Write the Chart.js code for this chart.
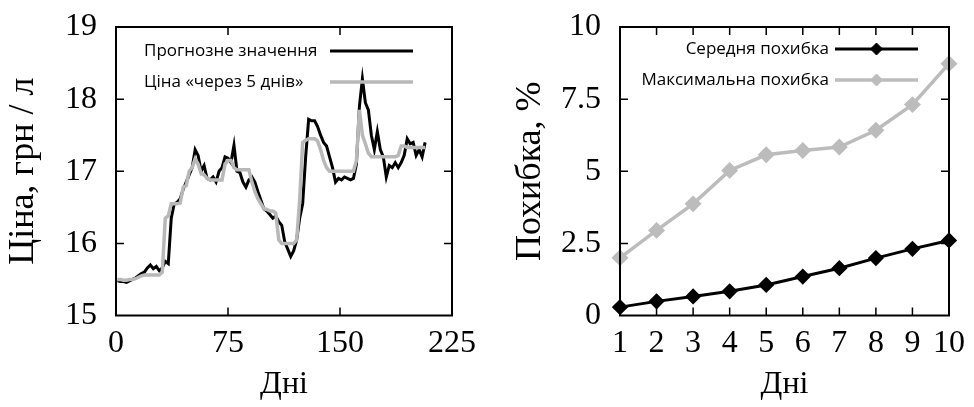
<!DOCTYPE html>
<html>
<head>
<meta charset="utf-8">
<script src="https://cdn.jsdelivr.net/npm/chart.js@4.4.0/dist/chart.umd.min.js"></script>
<style>
html, body { margin: 0; padding: 0; background: #fff; }
#wrap { display: flex; width: 974px; height: 407px; }
canvas { display: block; }
</style>
</head>
<body>
<div id="wrap">
  <canvas id="priceChart" width="487" height="407"></canvas>
  <canvas id="errorChart" width="487" height="407"></canvas>
</div>
<script>
// left panel: price, every 2nd day
const priceDays = Array.from({ length: 104 }, (_, i) => 1 + 2 * i);
const forecastPrice = [
    15.48, 15.47, 15.47, 15.46, 15.48, 15.50, 15.52, 15.55, 15.58, 15.60,
    15.66, 15.70, 15.65, 15.68, 15.62, 15.66, 15.75, 15.72, 16.35, 16.55,
    16.57, 16.62, 16.75, 16.85, 16.95, 17.05, 17.30, 17.22, 17.00, 17.08,
    16.90, 16.88, 16.92, 16.85, 17.00, 17.05, 17.20, 17.18, 17.12, 17.36,
    17.00, 16.98, 16.85, 16.78, 16.88, 16.92, 16.85, 16.72, 16.60, 16.48,
    16.45, 16.40, 16.35, 16.38, 16.30, 16.25, 16.02, 15.92, 15.82, 15.90,
    16.05, 16.35, 16.55, 17.20, 17.72, 17.70, 17.70, 17.62, 17.50, 17.40,
    17.35, 17.20, 17.05, 16.85, 16.90, 16.88, 16.92, 16.90, 16.88, 16.90,
    17.10, 17.90, 18.28, 17.95, 17.85, 17.50, 17.30, 17.55, 17.30, 17.20,
    16.92, 17.08, 17.05, 17.12, 17.05, 17.12, 17.22, 17.45, 17.38, 17.40,
    17.22, 17.30, 17.20, 17.40
];
const actualPrice = [
    15.50, 15.50, 15.49, 15.49, 15.50, 15.50, 15.51, 15.53, 15.55, 15.56,
    15.56, 15.56, 15.56, 15.56, 15.56, 15.60, 16.35, 16.38, 16.55, 16.55,
    16.55, 16.56, 16.78, 16.80, 17.00, 17.05, 17.17, 17.10, 16.97, 16.95,
    16.90, 16.88, 16.88, 16.88, 16.88, 16.88, 17.10, 17.15, 17.15, 17.05,
    17.02, 17.02, 17.02, 17.02, 17.02, 16.85, 16.72, 16.62, 16.55, 16.48,
    16.47, 16.45, 16.45, 16.42, 16.05, 16.00, 16.00, 16.00, 16.00, 16.00,
    16.05, 16.60, 17.40, 17.43, 17.45, 17.45, 17.45, 17.42, 17.30, 17.15,
    17.05, 17.00, 17.00, 17.00, 17.00, 17.00, 17.00, 17.00, 17.00, 17.00,
    17.15, 17.85, 17.50, 17.38, 17.25, 17.20, 17.20, 17.20, 17.20, 17.20,
    17.20, 17.20, 17.20, 17.20, 17.22, 17.35, 17.35, 17.33, 17.33, 17.33,
    17.33, 17.33, 17.33, 17.33
];
const priceTicks = [0, 75, 150, 225];

// right panel: error by horizon
const horizonDays = ['1', '2', '3', '4', '5', '6', '7', '8', '9', '10'];
const meanError = [0.29, 0.49, 0.66, 0.84, 1.06, 1.35, 1.64, 1.99, 2.31, 2.60];
const maxError = [2.00, 2.95, 3.87, 5.03, 5.57, 5.72, 5.84, 6.42, 7.31, 8.73];

const serif = 'Liberation Serif';
const sans = 'Open Sans';

// box round the plot + inward tick marks on all four sides
const frame = {
    id: 'frame',
    afterDatasetsDraw(chart) {
        const { ctx, chartArea: a, scales } = chart;
        const L = 8;
        ctx.save();
        ctx.strokeStyle = '#000';
        ctx.lineWidth = 1.5;
        ctx.beginPath();
        scales.x.ticks.forEach((t, i) => {
            const px = scales.x.getPixelForTick(i);
            if (px <= a.left + 1 || px >= a.right - 1) return;
            ctx.moveTo(px, a.bottom); ctx.lineTo(px, a.bottom - L);
            ctx.moveTo(px, a.top); ctx.lineTo(px, a.top + L);
        });
        scales.y.ticks.forEach((t, i) => {
            const py = scales.y.getPixelForTick(i);
            if (py <= a.top + 1 || py >= a.bottom - 1) return;
            ctx.moveTo(a.left, py); ctx.lineTo(a.left + L, py);
            ctx.moveTo(a.right, py); ctx.lineTo(a.right - L, py);
        });
        ctx.stroke();
        ctx.lineWidth = 2;
        ctx.strokeRect(a.left, a.top, a.width, a.height);
        ctx.restore();
    }
};

// gnuplot-like key: text then a line sample
const keyRows = {
    id: 'keyRows',
    afterDraw(chart, args, o) {
        const ctx = chart.ctx;
        ctx.save();
        chart.data.datasets.forEach((ds, i) => {
            const y = o.y + i * o.gap;
            ctx.font = '17px "' + sans + '"';
            ctx.fillStyle = '#000';
            ctx.textBaseline = 'middle';
            ctx.textAlign = o.align;
            ctx.fillText(ds.label, o.textX, y);
            ctx.strokeStyle = ds.borderColor;
            ctx.lineWidth = ds.borderWidth;
            ctx.beginPath();
            ctx.moveTo(o.x0, y);
            ctx.lineTo(o.x1, y);
            ctx.stroke();
            if (ds.pointRadius) {
                ctx.fillStyle = ds.pointBackgroundColor;
                ctx.strokeStyle = ds.pointBorderColor;
                ctx.lineWidth = 1;
                Chart.helpers.drawPoint(ctx, { pointStyle: 'rectRot', radius: ds.pointRadius, borderWidth: 1 }, (o.x0 + o.x1) / 2, y);
            }
        });
        ctx.restore();
    }
};

const tickFont = { family: serif, size: 32 };
const yTickFont = { family: serif, size: 32, lineHeight: 0.5 };
const xTitleFont = { family: serif, size: 32 };
const yTitleFont = { family: serif, size: 36 };

const priceCtx = document.getElementById('priceChart').getContext('2d');
const priceConfig = {
    type: 'line',
    data: {
        datasets: [{
            label: 'Прогнозне значення',
            data: priceDays.map((d, i) => ({ x: d, y: forecastPrice[i] })),
            borderColor: '#000',
            borderWidth: 3,
            pointRadius: 0,
            order: 1
        }, {
            label: 'Ціна «через 5 днів»',
            data: priceDays.map((d, i) => ({ x: d, y: actualPrice[i] })),
            borderColor: '#b8b8b8',
            borderWidth: 3.5,
            pointRadius: 0,
            order: 0
        }]
    },
    options: {
        responsive: false,
        animation: false,
        layout: { padding: { top: 22, right: 35, left: 0, bottom: 0 } },
        plugins: {
            legend: { display: false },
            tooltip: { enabled: false },
            keyRows: { y: 51, gap: 31, textX: 144, align: 'left', x0: 330, x1: 413 }
        },
        scales: {
            x: {
                type: 'linear', min: 0, max: 225,
                afterBuildTicks: s => { s.ticks = priceTicks.map(v => ({ value: v })); },
                afterFit: s => { s.height = 91.5; },
                grid: { display: false, drawTicks: false },
                border: { display: false },
                ticks: { color: '#000', font: tickFont, padding: 9, maxRotation: 0 },
                title: { display: true, text: 'Дні', color: '#000', font: xTitleFont, padding: { top: 0, bottom: 3 } }
            },
            y: {
                min: 15, max: 19,
                ticks: { stepSize: 1, color: '#000', font: yTickFont, padding: 19 },
                afterFit: s => { s.width = 116; },
                grid: { display: false, drawTicks: false },
                border: { display: false },
                title: { display: true, text: 'Ціна, грн / л', color: '#000', font: yTitleFont, padding: { top: 1.5, bottom: 0 } }
            }
        }
    },
    plugins: [frame, keyRows]
};
const priceChart = new Chart(priceCtx, priceConfig);

const errorCtx = document.getElementById('errorChart').getContext('2d');
const errorConfig = {
    type: 'line',
    data: {
        labels: horizonDays,
        datasets: [{
            label: 'Середня похибка',
            data: meanError,
            borderColor: '#000',
            borderWidth: 3,
            pointStyle: 'rectRot',
            pointRadius: 6,
            pointBackgroundColor: '#000',
            pointBorderColor: '#000',
            clip: false
        }, {
            label: 'Максимальна похибка',
            data: maxError,
            borderColor: '#bcbcbc',
            borderWidth: 3.5,
            pointStyle: 'rectRot',
            pointRadius: 6,
            pointBackgroundColor: '#bcbcbc',
            pointBorderColor: '#bcbcbc',
            clip: false
        }]
    },
    options: {
        responsive: false,
        animation: false,
        layout: { padding: { top: 22, right: 20, left: 0, bottom: 0 } },
        plugins: {
            legend: { display: false },
            tooltip: { enabled: false },
            keyRows: { y: 49, gap: 31, textX: 342, align: 'right', x0: 348, x1: 431 }
        },
        scales: {
            x: {
                afterFit: s => { s.height = 91.5; },
                grid: { display: false, drawTicks: false },
                border: { display: false },
                ticks: { color: '#000', font: tickFont, padding: 9, maxRotation: 0, autoSkip: false },
                title: { display: true, text: 'Дні', color: '#000', font: xTitleFont, padding: { top: 0, bottom: 3 } }
            },
            y: {
                min: 0, max: 10,
                ticks: { stepSize: 2.5, color: '#000', font: yTickFont, padding: 19, callback: v => String(v) },
                afterFit: s => { s.width = 133; },
                grid: { display: false, drawTicks: false },
                border: { display: false },
                title: { display: true, text: 'Похибка, %', color: '#000', font: yTitleFont, padding: { top: 21.5, bottom: 0 } }
            }
        }
    },
    plugins: [frame, keyRows]
};
const errorChart = new Chart(errorCtx, errorConfig);
</script>
</body>
</html>
